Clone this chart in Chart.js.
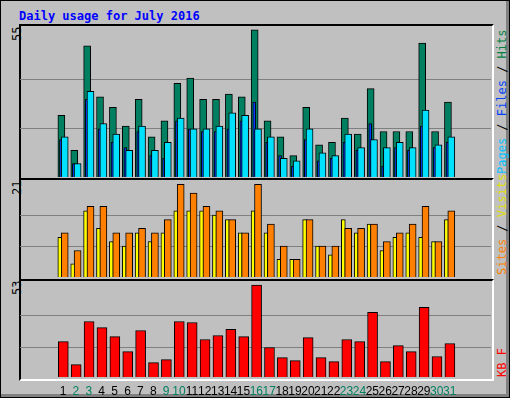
<!DOCTYPE html>
<html>
<head>
<meta charset="utf-8">
<script src="https://cdn.jsdelivr.net/npm/chart.js@4"></script>
<style>
  body { margin: 0; background: #fff; }
  #frame { position: absolute; left: 0; top: 0; width: 508px; height: 396px; background: #c0c0c0;
    border: 1px solid #000; box-shadow: inset -3px -3px 0 #808080; }
  .panel { position: absolute; left: 18px; width: 471px; border-top: 2px solid #000; border-left: 2px solid #000;
    border-bottom: 2px solid #fff; border-right: 2px solid #fff; }
  canvas { position: absolute; }
  .lbl { position: absolute; font: 12px "DejaVu Sans Mono", monospace; transform-origin: left top; transform: rotate(-90deg); white-space: nowrap; }
  #title { position: absolute; left: 18px; top: 8px; font: bold 12px "DejaVu Sans Mono", monospace; color: #0000ff; }
</style>
</head>
<body>
<div id="frame">
  <div id="title">Daily usage for July 2016</div>
  <div class="panel" style="top:23px;height:152px"></div>
  <div class="panel" style="top:177px;height:99px"></div>
  <div class="panel" style="top:278px;height:98px"></div>
  <div class="lbl" style="left:9px;top:40px">55</div>
  <div class="lbl" style="left:9px;top:194px">21</div>
  <div class="lbl" style="left:9px;top:294px">53</div>
  <div class="lbl" style="left:494px;top:173px"><span style="color:#00c0ff">Pages</span> / <span style="color:#0040ff">Files</span> / <span style="color:#008040">Hits</span></div>
  <div class="lbl" style="left:494px;top:274px"><span style="color:#ff8000">Sites</span> / <span style="color:#e0e000">Visits</span></div>
  <div class="lbl" style="left:494px;top:376px"><span style="color:#ff0000">KB F</span></div>
</div>
<canvas id="c1" style="left:20px;top:25px"></canvas>
<canvas id="c2" style="left:20px;top:179px"></canvas>
<canvas id="c3" style="left:20px;top:280px"></canvas>
<script>
const days = [];
for (let d = 1; d <= 31; d++) days.push(d);
const weekend = [2, 3, 9, 10, 16, 17, 23, 24, 30, 31];

const hits  = [23, 10, 49, 30, 26, 19, 29, 15, 21, 35, 37, 29, 29, 31, 30, 55, 21, 15, 8, 26, 12, 13, 22, 16, 33, 17, 17, 17, 50, 17, 28];
const files = [14, 5, 29, 18, 13, 11, 17, 8, 7, 21, 18, 17, 17, 18, 21, 28, 13, 8, 4, 14, 6, 7, 13, 10, 20, 4, 11, 10, 19, 11, 13];
const pages = [15, 5, 32, 20, 16, 10, 19, 10, 13, 22, 18, 18, 19, 24, 23, 18, 15, 7, 6, 18, 9, 8, 16, 11, 14, 11, 13, 11, 25, 12, 15];
const visits = [9, 3, 15, 11, 8, 7, 10, 8, 10, 15, 15, 15, 14, 13, 10, 15, 10, 4, 4, 13, 7, 5, 13, 10, 12, 6, 9, 10, 9, 8, 13];
const sites  = [10, 6, 16, 16, 10, 10, 11, 10, 13, 21, 19, 16, 15, 13, 10, 21, 12, 7, 4, 13, 7, 7, 11, 11, 12, 8, 10, 12, 16, 8, 15];
const kbytes = [20.4, 7.1, 32, 28.5, 23.3, 14.6, 26.8, 8.3, 10, 32, 31.4, 21.6, 23.9, 27.4, 23.3, 53, 17, 11.2, 9.4, 22.7, 11.2, 8.9, 21.6, 20.4, 37.2, 8.9, 18.1, 14.6, 40.1, 11.8, 19.3];

function series(values, shift, color, width, order) {
  return {
    data: values.map((v, i) => ({ x: days[i] + shift, y: v })),
    backgroundColor: color, borderColor: "#000", borderWidth: 1,
    barThickness: width, order: order, borderSkipped: "bottom", grouped: false
  };
}

const gridPlugin = {
  id: "grid",
  beforeDatasetsDraw(chart, args, opts) {
    const ctx = chart.ctx, y = chart.scales.y, a = chart.chartArea;
    ctx.save();
    ctx.strokeStyle = "#808080";
    ctx.lineWidth = 1;
    opts.lines.forEach(v => {
      const p = Math.round(y.getPixelForValue(v)) + 0.5;
      ctx.beginPath(); ctx.moveTo(a.left, p); ctx.lineTo(a.right, p); ctx.stroke();
    });
    ctx.restore();
  }
};

const dayLabels = {
  id: "dayLabels",
  afterDraw(chart, args, opts) {
    if (!opts.show) return;
    const ctx = chart.ctx, x = chart.scales.x;
    ctx.save();
    ctx.font = "12px 'Liberation Sans'";
    ctx.textAlign = "center";
    ctx.textBaseline = "alphabetic";
    days.forEach(d => {
      ctx.fillStyle = weekend.includes(d) ? "#008060" : "#000";
      ctx.fillText(String(d), x.getPixelForValue(d), chart.chartArea.bottom + 18);
    });
    ctx.restore();
  }
};

function makeChart(id, w, h, datasets, ymax, lines, showDays) {
  const el = document.getElementById(id);
  el.width = w; el.height = h;
  return new Chart(el, {
    type: "bar",
    data: { datasets: datasets },
    options: {
      responsive: false, animation: false,
      layout: { padding: { bottom: showDays ? 22 : 0 } },
      scales: {
        x: { type: "linear", min: 0.27, max: 31.6, display: false },
        y: { min: 0, max: ymax, display: false }
      },
      plugins: { legend: { display: false }, tooltip: { enabled: false },
        grid: { lines: lines }, dayLabels: { show: showDays } }
    },
    plugins: [gridPlugin, dayLabels]
  });
}

makeChart("c1", 471, 152, [
  series(hits, -0.13, "#008060", 7, 3),
  series(files, -0.16, "#0040ff", 3, 2),
  series(pages, 0.13, "#00e0ff", 7, 1)
], 56.8, [18.3, 36.7], false);

makeChart("c2", 471, 98, [
  series(visits, -0.25, "#ffff00", 4, 2),
  series(sites, 0.13, "#ff8000", 7, 1)
], 22.2, [7, 14], false);

makeChart("c3", 471, 119, [
  series(kbytes, 0.02, "#ff0000", 10, 1)
], 55.9, [17.5, 35.5], true);
</script>
</body>
</html>
